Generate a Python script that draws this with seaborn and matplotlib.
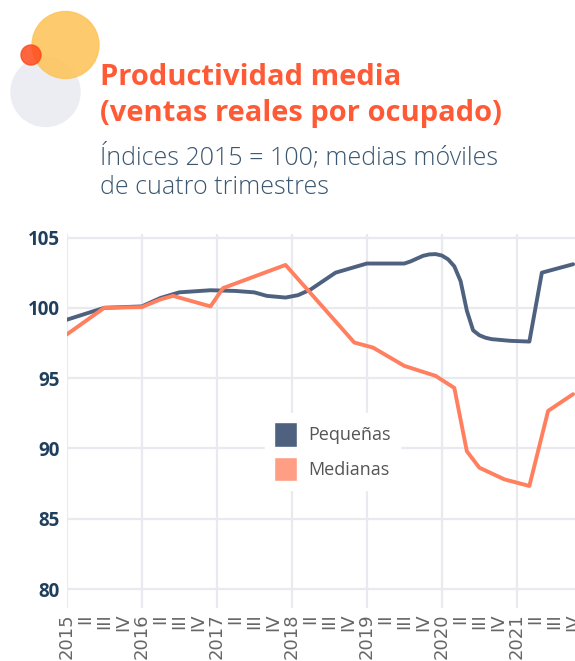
import pandas as pd
import matplotlib.pyplot as plt
import seaborn as sns
from matplotlib.patches import Circle, Patch

# Series data (dates of the vertices, index values)
fechas_peq = ["2015-01", "2015-07", "2016-01", "2016-04", "2016-07", "2016-12",
              "2017-04", "2017-07", "2017-09", "2017-12", "2018-02", "2018-04",
              "2018-08", "2019-01", "2019-07", "2019-08", "2019-09", "2019-10",
              "2019-11", "2019-12", "2020-01", "2020-02", "2020-03", "2020-04",
              "2020-05", "2020-06", "2020-07", "2020-08", "2020-09", "2020-12",
              "2021-03", "2021-05", "2021-10"]
pequenas = [99.15, 100.0, 100.1, 100.7, 101.1, 101.25,
            101.2, 101.1, 100.85, 100.73, 100.9, 101.3,
            102.5, 103.15, 103.15, 103.3, 103.5, 103.7,
            103.8, 103.82, 103.72, 103.45, 102.95, 101.9,
            99.8, 98.4, 98.05, 97.87, 97.77, 97.65,
            97.6, 102.5, 103.1]

fechas_med = ["2015-01", "2015-07", "2016-01", "2016-04", "2016-06", "2016-12",
              "2017-02", "2017-12", "2018-11", "2019-02", "2019-07", "2019-12",
              "2020-03", "2020-05", "2020-07", "2020-11", "2021-03", "2021-06",
              "2021-10"]
medianas = [98.1, 100.0, 100.05, 100.6, 100.85, 100.1,
            101.4, 103.05, 97.53, 97.17, 95.87, 95.16,
            94.3, 89.8, 88.63, 87.8, 87.33, 92.67,
            93.86]

anios = [2015, 2016, 2017, 2018, 2019, 2020, 2021]
trimestres = ["II", "III", "IV"]
yticks = [80, 85, 90, 95, 100, 105]

C_PEQ = "#4e6280"
C_MED = "#ff7f5f"
C_MED_LEG = "#ff9e85"
C_TITLE = "#ff5a36"
C_SUB = "#3a5670"
C_YTICK = "#1f3f5c"
C_GRID = "#e9e9f0"


def to_pos(f):
    y, m = f.split("-")
    return (int(y) - 2015) * 4 + (int(m) - 1) / 3


df = pd.concat([
    pd.DataFrame({"pos": [to_pos(f) for f in fechas_peq], "valor": pequenas, "serie": "Pequeñas"}),
    pd.DataFrame({"pos": [to_pos(f) for f in fechas_med], "valor": medianas, "serie": "Medianas"}),
])

sns.set_theme(style="white")
plt.rcParams["font.family"] = ["Open Sans", "DejaVu Sans"]

W, H = 575, 661
fig = plt.figure(figsize=(W / 100, H / 100), dpi=100)

# decorative circles
deco = fig.add_axes([0, 0, 1, 1])
deco.set_xlim(0, W)
deco.set_ylim(H, 0)
deco.axis("off")
deco.add_patch(Circle((45.5, 92), 34.5, color="#ecedf2", zorder=1))
deco.add_patch(Circle((65.5, 45), 33.5, color="#fdc55e", alpha=0.9, zorder=2))
deco.add_patch(Circle((31, 55), 10, color="#ff4a1c", alpha=0.85, zorder=3))

fig.text(100 / W, 1 - 85 / H, "Productividad media", color=C_TITLE,
         fontsize=21, fontweight="bold", va="baseline")
fig.text(100 / W, 1 - 121 / H, "(ventas reales por ocupado)", color=C_TITLE,
         fontsize=21, fontweight="bold", va="baseline")
fig.text(100 / W, 1 - 164 / H, "Índices 2015 = 100; medias móviles", color=C_SUB,
         fontsize=18, fontweight="light", va="baseline")
fig.text(100 / W, 1 - 194 / H, "de cuatro trimestres", color=C_SUB,
         fontsize=18, fontweight="light", va="baseline")

ax = fig.add_axes([66.7 / W, 1 - 608 / H, 1 - 66.7 / W, (608 - 234) / H])
sns.lineplot(data=df, x="pos", y="valor", hue="serie", estimator=None, sort=False,
             palette={"Pequeñas": C_PEQ, "Medianas": C_MED}, linewidth=2.8,
             legend=False, ax=ax, zorder=3)
for ln in ax.lines:
    ln.set_solid_joinstyle("round")
    ln.set_solid_capstyle("round")

ax.set_xlim(0, 27.1)
ax.set_ylim(78.65, 105.25)
labels = []
for a in anios:
    labels += [str(a)] + trimestres
ax.set_xticks(range(len(labels)))
ax.set_xticklabels(labels, rotation=90, fontsize=13, color="#666666",
                   family="DejaVu Sans", va="top")
ax.set_yticks(yticks)
ax.set_yticklabels([str(v) for v in yticks], fontsize=13.5, fontweight="bold", color=C_YTICK)
ax.tick_params(axis="both", length=0)
ax.tick_params(axis="y", pad=5)
ax.tick_params(axis="x", pad=4)
ax.set_xlabel("")
ax.set_ylabel("")
for s in ax.spines.values():
    s.set_visible(False)
ax.grid(False)
for v in yticks:
    ax.axhline(v, color=C_GRID, lw=1.6, zorder=1)
for i in range(0, len(labels), 4):
    ax.axvline(i, color=C_GRID, lw=1.6, zorder=1)

handles = [Patch(facecolor=C_PEQ, label="Pequeñas"), Patch(facecolor=C_MED_LEG, label="Medianas")]
leg = ax.legend(handles=handles, loc="upper left", bbox_to_anchor=(0.372, 0.545),
                frameon=True, fancybox=False, framealpha=1, edgecolor="white",
                facecolor="white", fontsize=13, handlelength=1.3, handleheight=1.7,
                handletextpad=0.6, labelspacing=0.55, borderpad=0.5)
for t in leg.get_texts():
    t.set_color("#555555")
leg.set_zorder(5)

fig.savefig("out.png", dpi=100)
